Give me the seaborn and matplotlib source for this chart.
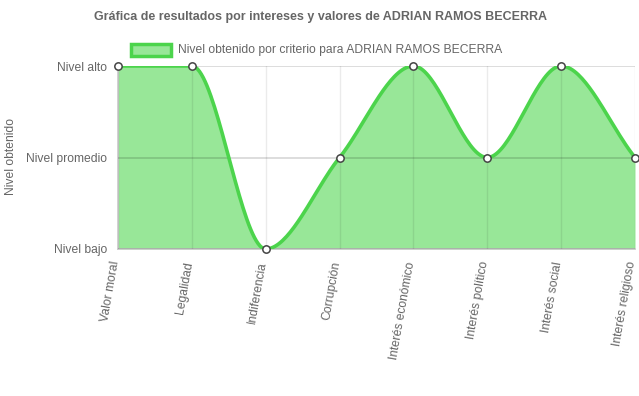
import numpy as np
import matplotlib
matplotlib.use("Agg")
import matplotlib.pyplot as plt
import matplotlib.transforms as mtransforms
import seaborn as sns
from matplotlib.patches import Rectangle

# ── Datos ──
criterios = ["Valor moral", "Legalidad", "Indiferencia", "Corrupción",
             "Interés económico", "Interés político", "Interés social",
             "Interés religioso"]
niveles = [3, 3, 1, 2, 3, 2, 3, 2]
etiquetas_y = ["Nivel bajo", "Nivel promedio", "Nivel alto"]
titulo = "Gráfica de resultados por intereses y valores de ADRIAN RAMOS BECERRA"
leyenda = "Nivel obtenido por criterio para ADRIAN RAMOS BECERRA"

LINEA = "#4cd44c"
RELLENO = "#98e798"
GRIS = "#666666"

sns.set_theme(style="white")
plt.rcParams["font.family"] = ["Liberation Sans", "DejaVu Sans"]


def monotone_beziers(x, y):
    """Puntos de control de la interpolación monótona (como Chart.js)."""
    n = len(x)
    delta = [(y[i + 1] - y[i]) / (x[i + 1] - x[i]) for i in range(n - 1)]
    m = [0.0] * n
    m[0] = delta[0]
    m[-1] = delta[-1]
    for i in range(1, n - 1):
        if delta[i - 1] * delta[i] <= 0:
            m[i] = 0.0
        else:
            m[i] = (delta[i - 1] + delta[i]) / 2
    for i in range(n - 1):
        if delta[i] == 0:
            m[i] = m[i + 1] = 0.0
            continue
        a = m[i] / delta[i]
        b = m[i + 1] / delta[i]
        s = a * a + b * b
        if s > 9:
            tau = 3 / np.sqrt(s)
            m[i] = tau * a * delta[i]
            m[i + 1] = tau * b * delta[i]
    segs = []
    for i in range(n - 1):
        dx = (x[i + 1] - x[i]) / 3
        p0 = (x[i], y[i])
        p1 = (x[i] + dx, y[i] + dx * m[i])
        p2 = (x[i + 1] - dx, y[i + 1] - dx * m[i + 1])
        p3 = (x[i + 1], y[i + 1])
        segs.append((p0, p1, p2, p3))
    return segs


def curva(segs, pasos=40):
    t = np.linspace(0, 1, pasos)[:, None]
    pts = []
    for p0, p1, p2, p3 in segs:
        p0, p1, p2, p3 = map(np.array, (p0, p1, p2, p3))
        b = ((1 - t) ** 3) * p0 + 3 * ((1 - t) ** 2) * t * p1 \
            + 3 * (1 - t) * t ** 2 * p2 + t ** 3 * p3
        pts.append(b)
    pts = np.vstack(pts)
    return pts[:, 0], pts[:, 1]


xs = list(range(len(criterios)))
cx, cy = curva(monotone_beziers(xs, niveles))

W, H = 639, 396
fig = plt.figure(figsize=(W / 100, H / 100), dpi=100)
ax = fig.add_axes([118 / W, 1 - 249 / H, (635 - 118) / W, (249 - 66) / H])

ax.fill_between(cx, cy, 1, color=RELLENO, lw=0, zorder=1)
ax.plot(cx, cy, color=LINEA, lw=2.6, zorder=3, solid_capstyle="round")
sns.scatterplot(x=xs, y=niveles, ax=ax, s=28, color="white",
                edgecolor="#444444", linewidth=1.1, zorder=4, clip_on=False,
                legend=False)

ax.set_xlim(0, len(criterios) - 1)
ax.set_ylim(1, 3)
ax.set_xticks(xs)
ax.set_xticklabels(criterios, rotation=80, ha="right", va="center",
                   rotation_mode="anchor", fontsize=8.7, color=GRIS)
ax.set_yticks([1, 2, 3])
ax.set_yticklabels(etiquetas_y, fontsize=8.7, color=GRIS)
ax.tick_params(axis="both", length=8, width=1, color="#dddddd", pad=0)
ax.tick_params(axis="x", pad=1)
# pequeño desplazamiento a la izquierda para que quepa la última etiqueta
desp = mtransforms.ScaledTranslation(-2.5 / 100, 0, fig.dpi_scale_trans)
for lbl in ax.get_xticklabels():
    lbl.set_transform(lbl.get_transform() + desp)
ax.xaxis.grid(True, color="#000000", alpha=0.08, lw=1, zorder=2)
ax.yaxis.grid(True, color="#000000", alpha=0.16, lw=1.2, zorder=2)
ax.set_axisbelow(False)
for sp in ["top", "right"]:
    ax.spines[sp].set_visible(False)
ax.spines["left"].set_color("#cccccc")
ax.spines["bottom"].set_color("#cccccc")

fig.text(11 / W, 1 - 157 / H, "Nivel obtenido", rotation=90, ha="center",
         va="center", fontsize=8.7, color=GRIS)
fig.text(320 / W, 1 - 17 / H, titulo, ha="center", va="center",
         fontsize=9, fontweight="bold", color=GRIS)
fig.patches.append(Rectangle((131 / W, 1 - 56 / H), 40 / W, 12 / H,
                             transform=fig.transFigure, facecolor=RELLENO,
                             edgecolor=LINEA, lw=2.5))
fig.text(178 / W, 1 - 49.5 / H, leyenda, ha="left", va="center",
         fontsize=8.7, color=GRIS)

fig.savefig("out.png", dpi=100)
